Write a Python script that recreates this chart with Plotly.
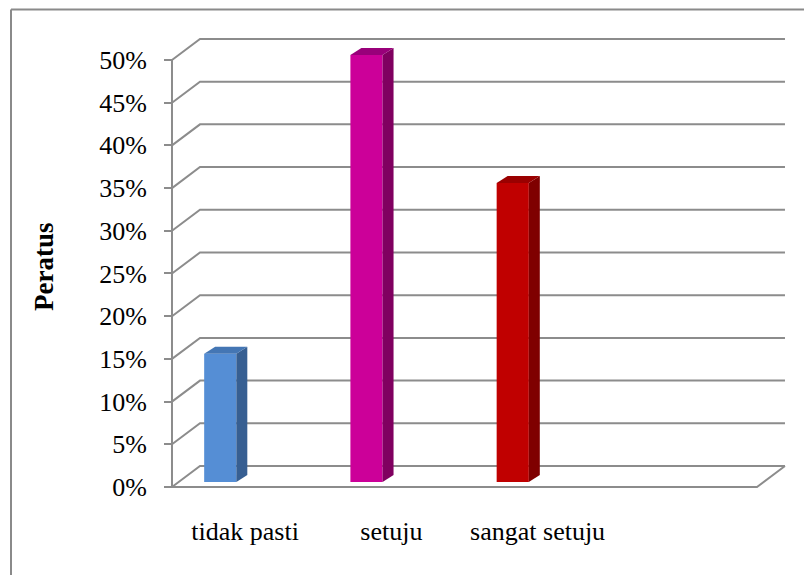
import plotly.graph_objects as go

# ---- data ----
categories = ["tidak pasti", "setuju", "sangat setuju", ""]
values = [0.15, 0.50, 0.35]
tick_values = [0.0, 0.05, 0.10, 0.15, 0.20, 0.25, 0.30, 0.35, 0.40, 0.45, 0.50]
front_colors = ["#558ed5", "#cc0099", "#c00000"]
side_colors = ["#375f92", "#800060", "#7f0000"]
top_colors = ["#4476b4", "#99007a", "#9a0000"]

# page offset (body margin) compensation
OFF = 8
W, H = 812 - OFF, 575 - OFF
L, R, T, B = 160 - OFF, 795 - OFF, 30 - OFF, 495 - OFF
x_range = [-0.582, 3.760]
y_range = [-0.00937, 0.5351]
back_dx, back_dy = 0.1915, 0.0246    # back wall offset
face_dx, face_dy = 0.075, 0.0082     # bar depth
bar_base = 0.0059
bar_width, bar_offset = 0.22, -0.28
grid_col = "#8c8c8c"
FAMILY = "Liberation Serif"

x_left = -0.5
x_right = len(categories) - 0.5

fig = go.Figure()
shapes = []
for t in tick_values:
    shapes.append(dict(type="path", xref="x", yref="y", layer="below",
                       path=f"M {x_left},{t} L {x_left+back_dx},{t+back_dy} L {x_right+back_dx},{t+back_dy}",
                       line=dict(color=grid_col, width=2)))
shapes.append(dict(type="path", xref="x", yref="y", layer="below",
                   path=f"M {x_left},0 L {x_right},0 L {x_right+back_dx},{back_dy}",
                   line=dict(color=grid_col, width=2)))
shapes.append(dict(type="line", xref="x", yref="y", layer="below",
                   x0=x_left, x1=x_left, y0=0, y1=max(tick_values),
                   line=dict(color=grid_col, width=2)))


def px(xp):
    return (xp - OFF - L) / (R - L)


def py(yp):
    return (B - (yp - OFF)) / (B - T)


# outer frame (top and left edges visible)
shapes.append(dict(type="line", xref="paper", yref="paper", layer="above",
                   x0=px(11), x1=px(830), y0=py(9.5), y1=py(9.5),
                   line=dict(color="#8a8a8a", width=2)))
shapes.append(dict(type="line", xref="paper", yref="paper", layer="above",
                   x0=px(11), x1=px(11), y0=py(9.5), y1=py(600),
                   line=dict(color="#8a8a8a", width=2)))

xs = list(range(len(values)))
fig.add_trace(go.Bar(x=xs, y=values, base=[bar_base] * len(values),
                     width=bar_width, offset=bar_offset,
                     marker=dict(color=front_colors, line=dict(width=0)),
                     showlegend=False, hoverinfo="skip"))

for i, v in enumerate(values):
    xl = i + bar_offset
    xr = xl + bar_width
    y0 = bar_base
    y1 = bar_base + v
    fig.add_trace(go.Scatter(
        x=[xr, xr + face_dx, xr + face_dx, xr, xr],
        y=[y0, y0 + face_dy, y1 + face_dy, y1, y0],
        fill="toself", fillcolor=side_colors[i], mode="lines",
        line=dict(width=0, color=side_colors[i]), showlegend=False, hoverinfo="skip"))
    fig.add_trace(go.Scatter(
        x=[xl, xl + face_dx, xr + face_dx, xr, xl],
        y=[y1, y1 + face_dy, y1 + face_dy, y1, y1],
        fill="toself", fillcolor=top_colors[i], mode="lines",
        line=dict(width=0, color=top_colors[i]), showlegend=False, hoverinfo="skip"))

font = dict(family=FAMILY, size=26, color="black")

fig.update_layout(
    width=W, height=H, autosize=False,
    margin=dict(l=L, r=W - R, t=T, b=H - B),
    paper_bgcolor="white", plot_bgcolor="white",
    shapes=shapes,
    font=font,
    xaxis=dict(range=x_range, tickmode="array", tickvals=list(range(len(categories))),
               ticktext=categories, showgrid=False, zeroline=False, showline=False,
               ticks="", tickangle=0, tickfont=font, ticklabelstandoff=18, fixedrange=True),
    yaxis=dict(range=y_range, tickmode="array", tickvals=tick_values, tickformat=".0%",
               anchor="free", position=px(172), showgrid=False, zeroline=False,
               showline=False, ticks="outside", ticklen=8, tickwidth=2, tickcolor=grid_col,
               tickfont=font, ticklabelstandoff=12, fixedrange=True),
    annotations=[dict(text="<b>Peratus</b>", xref="paper", yref="paper",
                      x=px(44), y=py(267), showarrow=False, textangle=-90,
                      font=dict(family=FAMILY, size=27, color="black"),
                      xanchor="center", yanchor="middle")],
)

fig.write_html("out.html")
